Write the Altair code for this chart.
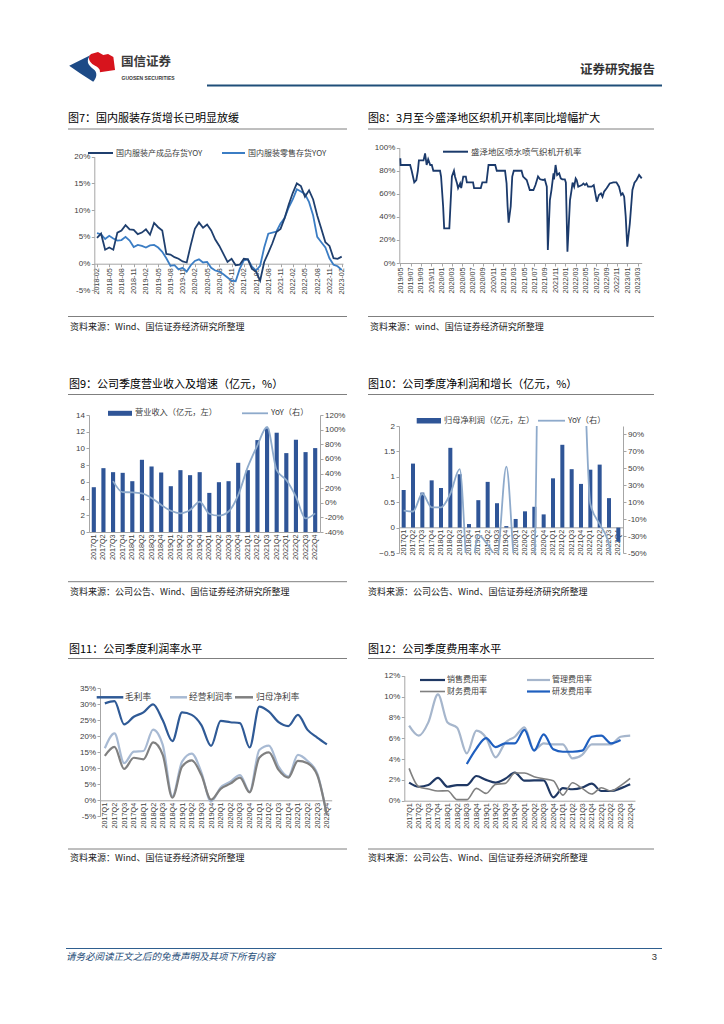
import altair as alt
import pandas as pd

CJK = "Noto Sans CJK SC"
LAT = "Liberation Sans"

# ---------------- data ----------------
F7_MONTHS = [f"{2018 + (1 + i) // 12}-{(1 + i) % 12 + 1:02d}" for i in range(61)]
F7_TICKS = F7_MONTHS[::3]
F7_FINISHED = [4.8, 5.6, 2.6, 3.0, 2.6, 5.8, 6.2, 7.2, 6.4, 6.3, 5.5, 5.8, 6.4, 5.4, 7.6, 6.8,
               6.2, 1.8, 1.7, 1.2, 0.9, 0.4, 0.2, 3.5, 6.5, 7.7, 6.7, 7.3, 6.2, 4.5, 3.3, 1.8,
               0.3, 0.9, -0.3, -0.2, 0.9, 0.8, -1.0, -1.5, -3.2, 0.3, 2.0, 3.8, 5.9, 6.5, 8.5,
               11.0, 13.2, 15.0, 14.5, 12.5, 13.7, 12.0, 9.0, 6.5, 4.0, 3.3, 1.0, 0.9, 1.3]
F7_RETAIL = [5.7, 5.5, 4.6, 5.2, 4.7, 4.3, 4.4, 5.0, 4.3, 3.1, 3.5, 3.3, 3.0, 3.4, 3.5, 3.0,
             2.2, 1.0, -0.4, -0.3, -1.1, -0.8, -1.5, -0.3, 0.5, 0.8, 0.2, 0.3, -0.8, -1.3, -1.5,
             -2.0, -2.6, -3.2, -3.3, -1.0, 0.6, 0.8, -0.6, -1.3, -0.4, 3.0, 5.6, 5.8, 6.0, 7.5,
             8.5, 10.5, 12.0, 13.9, 13.5, 13.0, 11.5, 9.0, 5.0, 4.0, 3.0, 1.0, -0.2, -0.5, -1.2]

F8_TICKS = ["2019/05", "2019/07", "2019/09", "2019/11", "2020/01", "2020/03", "2020/05",
            "2020/07", "2020/09", "2020/11", "2021/01", "2021/03", "2021/05", "2021/07",
            "2021/09", "2021/11", "2022/01", "2022/03", "2022/05", "2022/07", "2022/09",
            "2022/11", "2023/01", "2023/03"]
F8_MONTH = [0.0, 0.05, 1.9, 2.2, 2.7, 3.1, 3.4, 3.6, 4.5, 4.8, 5.1, 5.4, 5.8, 6.1, 6.4, 7.7,
            7.9, 8.3, 8.5, 9.5, 10.0, 10.4, 10.6, 11.0, 11.2, 11.6, 11.8, 12.2, 12.7, 12.9,
            14.1, 14.3, 15.6, 15.9, 16.7, 17.1, 18.4, 18.7, 20.3, 20.6, 20.8, 21.0, 21.4,
            21.7, 22.0, 23.5, 23.8, 24.5, 24.8, 25.1, 25.8, 26.2, 26.7, 27.1, 27.7, 28.0,
            28.4, 28.6, 29.0, 29.3, 29.7, 29.8, 30.1, 30.4, 30.8, 31.1, 31.4, 31.9, 32.1,
            32.4, 32.9, 33.2, 33.4, 33.7, 34.0, 34.2, 34.5, 34.8, 35.2, 35.5, 35.8, 36.1,
            36.4, 37.1, 37.5, 38.1, 38.5, 38.9, 39.2, 39.5, 40.0, 40.6, 41.3, 41.9, 42.4,
            42.8, 43.1, 43.4, 43.7, 44.0, 44.5, 45.0, 45.4, 45.8, 46.3, 46.8]
F8_RATE = [90.8, 85, 85, 80, 70, 72, 80, 89, 89, 95, 85, 90, 85, 85, 80, 80,
           75, 49, 30, 30, 75, 80, 75, 69, 65, 69, 65, 75, 75, 70,
           70, 65, 65, 70, 70, 85, 85, 80, 80, 69, 49, 35, 49,
           75, 80, 80, 75, 72, 67.6, 63.3, 63.3, 67.6, 75, 72.6, 72, 72.6,
           66.2, 11.3, 54.6, 63.3, 77.8, 72.6, 85, 76.3, 77.8, 73.4, 72.6, 72.6, 69.7,
           9.8, 54.6, 63.3, 69.7, 66.2, 73.4, 72, 66.2, 66.8, 67.6, 69, 67.6, 69,
           66.2, 66.2, 67.6, 53.2, 59, 60.4, 57.5, 61.8, 64.8, 69, 70, 70, 66.2,
           59, 60.4, 57.5, 40.2, 14.1, 34.4, 63.3, 69.7, 72, 76.3, 73.4]

QUARTERS = [f"{y}Q{q}" for y in range(2017, 2023) for q in range(1, 5)]
F9_REVENUE = [5.36, 7.64, 7.16, 7.08, 6.08, 8.64, 7.84, 7.12, 5.48, 7.4, 6.8, 7.16,
              4.68, 5.96, 6.08, 8.28, 7.4, 11.0, 12.4, 11.88, 9.44, 11.04, 9.56, 10.04]
F9_YOY = [None, None, 29.6, 14.5, 14.2, 12.8, 6.5, -3.0, -11.0, -14.5, -10.0, 1.4,
          -15.0, -17.7, -12.0, 10.5, 49.0, 78.6, 103.6, 44.5, 31.0, 8.2, -21.49, -14.5]
F10_PROFIT = [0.74, 1.26, 0.69, 0.93, 0.78, 1.57, 1.05, 0.07, 0.54, 0.90, 0.48, 0.03,
              0.17, 0.32, 0.41, 0.26, 0.97, 1.63, 1.15, 0.86, 1.14, 1.24, 0.58, -0.28]
F10_YOY = [0, -1, 20, 4, 4, 20, 49, -93, -29, -40, -54, 52,
           -69, -64, -52, 767, 470, 409, 180, 230, 8, -16, -40, -133]
F11_GROSS = [30.3, 31.0, 23.75, 26.1, 27.5, 30.0, 25.0, 18.5, 27.5, 26.7, 23.5, 17.0,
             24.8, 24.4, 24.1, 16.5, 29.3, 27.7, 24.4, 23.2, 26.7, 22.0, 19.6, 17.5]
F11_OPER = [16.25, 20.9, 11.6, 15.2, 15.4, 22.1, 17.3, 1.25, 12.1, 14.6, 8.75, -0.4,
            4.0, 5.8, 7.9, 2.7, 15.7, 17.1, 10.5, 7.4, 14.2, 12.3, 8.4, -4.8]
F11_NET = [13.9, 16.7, 9.8, 13.3, 12.8, 18.1, 14.2, 0.8, 10.5, 12.5, 7.9, 0.2,
           3.6, 5.2, 7.1, 2.5, 13.3, 15.0, 9.5, 7.1, 12.3, 11.6, 7.9, -4.6]
F12_SELL = [1.73, 1.34, 1.5, 2.2, 1.34, 1.5, 1.5, 2.37, 2.0, 1.73, 2.1, 2.7,
            1.92, 1.95, 1.95, 0.32, 1.2, 1.1, 1.25, 1.63, 0.93, 0.93, 1.18, 1.57]
F12_ADMIN = [7.2, 6.24, 7.52, 10.2, 7.5, 7.0, 4.54, 6.72, 6.05, 4.16, 5.57, 6.14,
             7.04, 4.86, 5.5, 5.4, 5.4, 4.06, 4.4, 5.4, 5.4, 5.4, 6.14, 6.24]
F12_FIN = [3.1, 1.34, 1.12, 0.93, 0.96, 0.1, 0.1, 1.18, 0.7, 1.57, 1.66, 2.66,
           2.66, 2.3, 2.1, 1.92, 0.54, 1.73, 1.18, 0.64, 1.25, 0.93, 1.44, 2.14]
F12_RD = [None, None, None, None, None, None, 3.52, 5.0, 6.0, 5.15, 5.5, 5.5,
          6.8, 4.8, 6.37, 4.93, 4.7, 4.7, 4.8, 6.14, 6.24, 5.5, 5.82, None]

DUMMY = pd.DataFrame({"k": [0]})
GRAY_SEP = "#7f7f7f"
AX = "#a6a6a6"

BLUE_LOGO = "M-0.95,-0.05 L-0.05,-0.5 C-0.25,-0.3 -0.2,-0.1 0.05,0.08 C0.25,0.22 0.2,0.45 0.05,0.61 L-0.5,0.26 Z"
RED_LOGO = "M-0.04,-0.54 L0.25,-0.62 L0.47,-0.5 L0.67,-0.54 L0.89,-0.42 L0.96,0.12 L0.33,0.22 C0.35,0.05 0.2,0 0.08,-0.08 C-0.12,-0.2 -0.2,-0.4 -0.04,-0.54 Z"


class Panel:
    def __init__(self, ox, oy, w, h):
        self.ox, self.oy, self.w, self.h = ox, oy, w, h
        self.layers = []

    def X(self, px):
        return round(px - self.ox, 2)

    def Y(self, py):
        return round(py - self.oy, 2)

    def add(self, c):
        self.layers.append(c)

    def text(self, s, px, py, size=9.0, color="#1a1a1a", font=CJK, align="left",
             weight="normal", style="normal"):
        self.add(alt.Chart(DUMMY).mark_text(
            text=s, align=align, baseline="middle", font=font, fontSize=size,
            color=color, fontWeight=weight, fontStyle=style
        ).encode(x=alt.value(self.X(px)), y=alt.value(self.Y(py))))

    def rule(self, px1, px2, py, color, width=1.0):
        self.add(alt.Chart(DUMMY).mark_rule(color=color, strokeWidth=width).encode(
            x=alt.value(self.X(px1)), x2=alt.value(self.X(px2)), y=alt.value(self.Y(py))))

    def rect(self, px1, px2, py1, py2, color):
        self.add(alt.Chart(DUMMY).mark_rect(color=color).encode(
            x=alt.value(self.X(px1)), x2=alt.value(self.X(px2)),
            y=alt.value(self.Y(py1)), y2=alt.value(self.Y(py2))))

    def shape(self, path, px, py, size, color):
        self.add(alt.Chart(DUMMY).mark_point(
            shape=path, filled=True, size=size, color=color, opacity=1, strokeWidth=0
        ).encode(x=alt.value(self.X(px)), y=alt.value(self.Y(py))))

    def frame(self, title, source, x1, x2, ytitle, ysep1, ysep2, ysrc, xtitle, xsrc):
        self.text(title, xtitle, ytitle, size=11, color="#000000")
        self.rule(x1, x2, ysep1, GRAY_SEP, 1)
        self.rule(x1, x2, ysep2, GRAY_SEP, 1)
        self.text(source, xsrc, ysrc, size=9, color="#1a1a1a")

    def qx(self, L, R, domain):
        return alt.Scale(domain=domain, range=[self.X(L), self.X(R)], nice=False, zero=False)

    def qy(self, B, T, domain):
        return alt.Scale(domain=domain, range=[self.Y(B), self.Y(T)], nice=False, zero=False)

    def band(self, L, R):
        return alt.Scale(type="band", domain=QUARTERS, range=[self.X(L), self.X(R)],
                         paddingInner=0.57, paddingOuter=0.285)

    def point(self, L, R):
        return alt.Scale(type="point", domain=QUARTERS, range=[self.X(L), self.X(R)], padding=0.5)

    def left_axis(self, L, values, **kw):
        return alt.Axis(orient="left", offset=-self.X(L), values=values, title=None,
                        tickSize=3, labelPadding=1.5, grid=False, labelFontSize=8, **kw)

    def right_axis(self, R, values, **kw):
        return alt.Axis(orient="right", offset=self.X(R) - self.w, values=values, title=None,
                        tickSize=3, labelPadding=1.5, grid=False, labelFontSize=8, **kw)

    def bottom_axis(self, yline, **kw):
        return alt.Axis(orient="bottom", offset=self.Y(yline) - self.h, title=None,
                        labelAngle=270, labelFontSize=7.2, labelOverlap=False,
                        labelFlush=False, grid=False, **kw)

    def chart(self):
        return alt.layer(*self.layers).properties(width=self.w, height=self.h).resolve_scale(
            x="independent", y="independent")


def line(df, x, y, color, width, interp="linear", clip=False):
    return alt.Chart(df).mark_line(color=color, strokeWidth=width, interpolate=interp, clip=clip) \
        .encode(x=x, y=y)


PCT = "datum.value + '%'"

# ---------------- Figure 7 (with page header) ----------------
p7 = Panel(8, 8, 391, 418)
p7.shape(BLUE_LOGO, 92, 67, 2304, "#1d4a86")
p7.shape(RED_LOGO, 92, 67, 2304, "#d7141d")
p7.text("国信证券", 121, 62, size=12.5, color="#3a3a3a", weight="bold")
p7.text("GUOSEN SECURITIES", 121.5, 78, size=5, color="#3a3a3a", font=LAT, weight="bold")
p7.text("证券研究报告", 655, 70, size=12.5, color="#333333", align="right", weight="bold")
p7.rule(207, 662, 85.5, "#1f4e79", 2.2)
p7.frame("图7：国内服装存货增长已明显放缓", "资料来源：Wind、国信证券经济研究所整理",
         68, 347, 119, 129, 316.5, 326.5, 68, 70)
C7A, C7B = "#1f3f6e", "#3b7dc4"
p7.rule(88, 113, 153, C7A, 2)
p7.text("国内服装产成品存货YOY", 116, 153.5, size=8, color="#404040")
p7.rule(222, 245, 153, C7B, 2)
p7.text("国内服装零售存货YOY", 248, 153.5, size=8, color="#404040")
L, R, T, B = 94.3, 343, 156.7, 290.3
xs7 = p7.qx(L, R, [-0.66, 60.32])
ys7 = p7.qy(B, T, [-5, 20])
expr7 = "[" + ",".join(f"'{t}'" for t in F7_TICKS) + "][round(datum.value / 3)]"
xa7 = p7.bottom_axis(263.7, values=list(range(0, 61, 3)), labelExpr=expr7, tickSize=3, labelPadding=1)
ya7 = p7.left_axis(L, [-5, 0, 5, 10, 15, 20], labelExpr=PCT)
df7b = pd.DataFrame({"i": list(range(61)), "v": F7_RETAIL})
df7a = pd.DataFrame({"i": list(range(61)), "v": F7_FINISHED})
p7.add(line(df7b, alt.X("i:Q", scale=xs7, axis=xa7), alt.Y("v:Q", scale=ys7, axis=ya7), C7B, 1.8))
p7.add(line(df7a, alt.X("i:Q", scale=xs7, axis=None), alt.Y("v:Q", scale=ys7, axis=None), C7A, 1.8))

# ---------------- Figure 8 ----------------
p8 = Panel(399, 8, 317, 418)
p8.frame("图8：3月至今盛泽地区织机开机率同比增幅扩大", "资料来源：wind、国信证券经济研究所整理",
         368, 654, 119, 129, 316.5, 326.5, 368, 370)
C8 = "#1b3a6b"
p8.rule(443, 468, 151.7, C8, 2)
p8.text("盛泽地区喷水喷气织机开机率", 471, 152, size=8.5, color="#404040")
L, R, T, B = 399.3, 641.7, 147.7, 263
xs8 = p8.qx(L, R, [-0.2, 46.8])
ys8 = p8.qy(B, T, [0, 100])
expr8 = "[" + ",".join(f"'{t}'" for t in F8_TICKS) + "][round(datum.value / 2)]"
xa8 = p8.bottom_axis(263, values=list(range(0, 47, 2)), labelExpr=expr8, tickSize=3, labelPadding=1)
ya8 = p8.left_axis(L, [0, 20, 40, 60, 80, 100], labelExpr=PCT)
n8 = min(len(F8_MONTH), len(F8_RATE))
df8 = pd.DataFrame({"m": F8_MONTH[:n8], "v": F8_RATE[:n8]})
p8.add(line(df8, alt.X("m:Q", scale=xs8, axis=xa8), alt.Y("v:Q", scale=ys8, axis=ya8), C8, 1.8))

# ---------------- Figure 9 ----------------
C_BAR, C_YOY = "#2f5597", "#8eaacb"
p9 = Panel(8, 426, 391, 127)
p9.frame("图9：公司季度营业收入及增速（亿元，%）", "资料来源：公司公告、Wind、国信证券经济研究所整理",
         68, 347, 385, 394.5, 581.7, 591.7, 69, 70)
p9.rect(108, 132, 410.8, 415.8, C_BAR)
p9.text("营业收入（亿元，左）", 135, 413.3, size=8.2, color="#404040")
p9.rule(242, 268, 413.3, C_YOY, 1.8)
p9.text("YoY（右）", 271, 413.3, size=8.2, color="#404040")
L, R, T, B = 89, 320, 415, 532
xa9 = p9.bottom_axis(B, ticks=False, labelPadding=2)
ya9 = p9.left_axis(L, list(range(0, 15, 2)))
yr9 = p9.right_axis(R, list(range(-40, 121, 20)), labelExpr=PCT)
df9 = pd.DataFrame({"q": QUARTERS, "v": F9_REVENUE, "y": F9_YOY}).astype({"y": float})
p9.add(alt.Chart(df9).mark_bar(color=C_BAR).encode(
    x=alt.X("q:N", scale=p9.band(L, R), sort=None, axis=xa9),
    y=alt.Y("v:Q", scale=p9.qy(B, T, [0, 14]), axis=ya9)))
p9.add(line(df9.dropna(), alt.X("q:N", scale=p9.point(L, R), sort=None, axis=None),
            alt.Y("y:Q", scale=p9.qy(B, T, [-40, 120]), axis=yr9), C_YOY, 1.8, "monotone"))

# ---------------- Figure 10 ----------------
p10 = Panel(399, 426, 224, 127)
p10.frame("图10：公司季度净利润和增长（亿元，%）", "资料来源：公司公告、Wind、国信证券经济研究所整理",
          368, 654, 385, 394.5, 581.7, 591.7, 368, 368)
p10.rect(416.7, 441, 418, 423.5, C_BAR)
p10.text("归母净利润（亿元，左）", 444, 420.7, size=8.2, color="#404040")
p10.rule(538, 565, 420.7, C_YOY, 1.8)
p10.text("YoY（右）", 568, 420.7, size=8.2, color="#404040")
L, R, T, B = 399, 623, 426, 553
xa10 = p10.bottom_axis(527.3, ticks=False, labelPadding=2)
ya10 = p10.left_axis(L, [-0.5, 0, 0.5, 1, 1.5, 2], format=".1~f")
yr10 = p10.right_axis(R, list(range(-50, 91, 20)), labelExpr=PCT)
df10 = pd.DataFrame({"q": QUARTERS, "v": F10_PROFIT, "y": F10_YOY})
p10.add(alt.Chart(df10).mark_bar(color=C_BAR).encode(
    x=alt.X("q:N", scale=p10.band(L, R), sort=None, axis=xa10),
    y=alt.Y("v:Q", scale=p10.qy(B, T, [-0.5, 2]), axis=ya10)))
p10.add(line(df10, alt.X("q:N", scale=p10.point(L, R), sort=None, axis=None),
             alt.Y("y:Q", scale=p10.qy(B, T, [-50, 100]), axis=yr10), C_YOY, 1.8, "monotone", clip=True))

# ---------------- Figure 11 (with page footer) ----------------
p11 = Panel(8, 553, 391, 420)
p11.frame("图11：公司季度利润率水平", "资料来源：Wind、国信证券经济研究所整理",
          68, 347, 650, 658.5, 849, 857.5, 69, 70)
C11 = ["#2f5a96", "#a8bad3", "#808080"]
p11.rule(96.7, 123.3, 697.3, C11[0], 2.5)
p11.text("毛利率", 125, 697.3, size=8.7, color="#404040")
p11.rule(170, 187, 697.3, C11[1], 2.5)
p11.text("经营利润率", 189, 697.3, size=8.7, color="#404040")
p11.rule(235, 253, 697.3, C11[2], 2.5)
p11.text("归母净利率", 256, 697.3, size=8.7, color="#404040")
L, R, T, B = 100, 331.7, 688.3, 816.3
pt11 = p11.point(L, R)
ys11 = p11.qy(B, T, [-5, 35])
xa11 = p11.bottom_axis(800.3, ticks=False, labelPadding=2)
ya11 = p11.left_axis(L, list(range(-5, 36, 5)), labelExpr=PCT)
for k, (vals, col) in enumerate(zip([F11_GROSS, F11_OPER, F11_NET], C11)):
    d = pd.DataFrame({"q": QUARTERS, "v": vals})
    p11.add(line(d, alt.X("q:N", scale=pt11, sort=None, axis=xa11 if k == 0 else None),
                 alt.Y("v:Q", scale=ys11, axis=ya11 if k == 0 else None), col, 2.2, "monotone"))
p11.rule(66, 662, 948.5, "#2f5f8f", 1)
p11.text("请务必阅读正文之后的免责声明及其项下所有内容", 66, 956.5, size=9.5, color="#1f4e79", style="italic")
p11.text("3", 657, 956.5, size=9.5, color="#333333", font=LAT, align="right")

# ---------------- Figure 12 ----------------
p12 = Panel(399, 553, 317, 420)
p12.frame("图12：公司季度费用率水平", "资料来源：公司公告、Wind、国信证券经济研究所整理",
          368, 654, 650, 658.5, 849, 857.5, 368, 368)
C12 = ["#1f3864", "#a6b6cc", "#808080", "#1f5fbf"]
W12 = [2.2, 2.2, 1.6, 2.2]
p12.rule(420, 445, 680, C12[0], 2.2)
p12.text("销售费用率", 447, 680, size=8, color="#404040")
p12.rule(527, 550, 680, C12[1], 2.2)
p12.text("管理费用率", 552, 680, size=8, color="#404040")
p12.rule(420, 445, 691.5, C12[2], 1.6)
p12.text("财务费用率", 447, 691.5, size=8, color="#404040")
p12.rule(527, 550, 691.5, C12[3], 2.2)
p12.text("研发费用率", 552, 691.5, size=8, color="#404040")
L, R, T, B = 404.3, 635, 675.7, 800.7
pt12 = p12.point(L, R)
ys12 = p12.qy(B, T, [0, 12])
xa12 = p12.bottom_axis(B, ticks=False, labelPadding=2)
ya12 = p12.left_axis(L, list(range(0, 13, 2)), labelExpr=PCT)
for k, (vals, col, w) in enumerate(zip([F12_SELL, F12_ADMIN, F12_FIN, F12_RD], C12, W12)):
    d = pd.DataFrame({"q": QUARTERS, "v": vals}).astype({"v": float}).dropna()
    p12.add(line(d, alt.X("q:N", scale=pt12, sort=None, axis=xa12 if k == 0 else None),
                 alt.Y("v:Q", scale=ys12, axis=ya12 if k == 0 else None), col, w, "monotone"))

chart = alt.concat(
    p7.chart(), p8.chart(), p9.chart(), p10.chart(), p11.chart(), p12.chart(),
    columns=2, spacing=0, bounds="flush", align="each"
).properties(padding=0).configure_view(stroke=None).configure_axis(
    labelFont=LAT, labelColor="#404040", domainColor=AX, tickColor=AX, domainWidth=1
)

chart.save("out.html", embed_options={"renderer": "svg", "actions": False})
